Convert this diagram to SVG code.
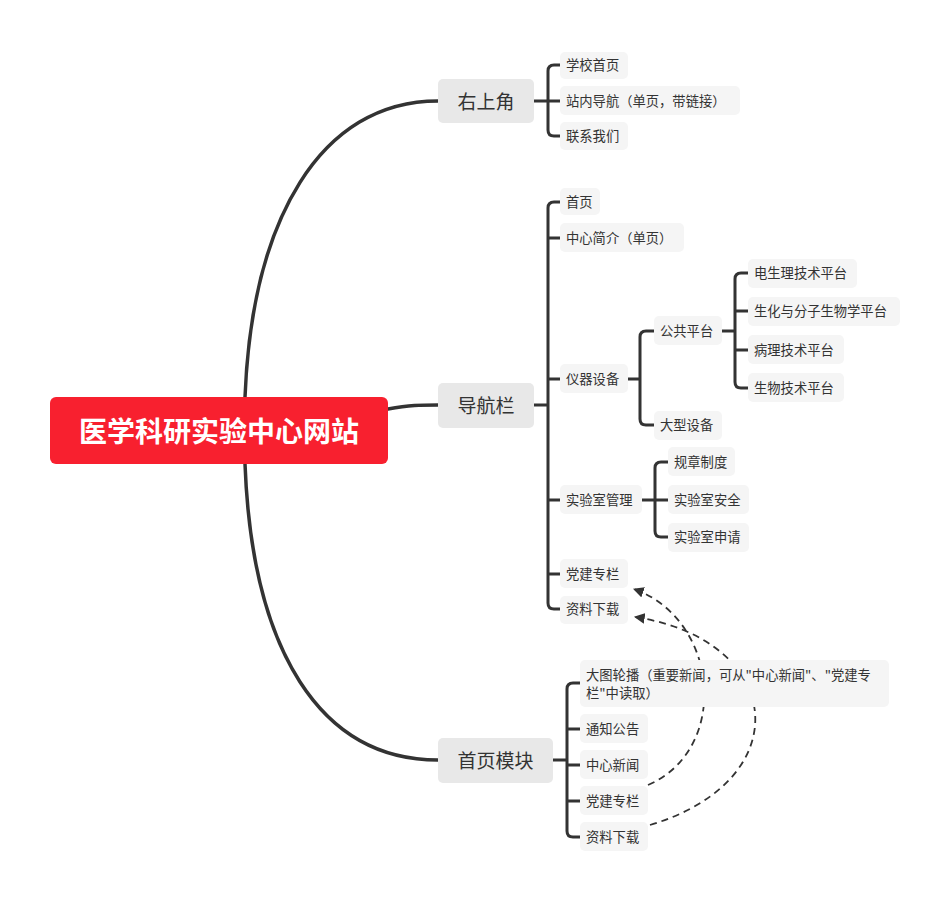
<svg xmlns="http://www.w3.org/2000/svg" width="950" height="902" viewBox="0 0 950 902">
<style>
.ln{fill:none;stroke:#333;stroke-width:3;stroke-linecap:round;stroke-linejoin:round}
.main{fill:none;stroke:#333;stroke-width:3.5;stroke-linecap:round}
.dash{fill:none;stroke:#333;stroke-width:1.8;stroke-dasharray:7 5}
.l1 rect{fill:#E8E8E8}
.l1 text{font-family:"Noto Sans CJK SC","Noto Sans",sans-serif;font-size:19px;fill:#333;dominant-baseline:central;text-anchor:middle}
.lf rect{fill:#F5F5F5}
.lf text{font-family:"Noto Sans CJK SC","Noto Sans",sans-serif;font-size:13.3px;fill:#333;dominant-baseline:central}
</style>
<defs>
<marker id="ah" viewBox="0 0 10 10" refX="9" refY="5" markerWidth="6" markerHeight="6" orient="auto">
<path d="M0 0 L10 5 L0 10 z" fill="#333"/>
</marker>
</defs>
<rect width="950" height="902" fill="#fff"/>
<g id="connectors">
<path class="main" d="M245 397 C252 220 320 101 438 101"/>
<path class="main" d="M388 409 C410 405 420 405 438 405"/>
<path class="main" d="M245 464 C252 650 320 760 438 760"/>
<!-- 右上角 -->
<path class="ln" d="M534 101 H560 M560 65 H554 Q548 65 548 71 V130 Q548 136 554 136 H560"/>
<!-- 导航栏 -->
<path class="ln" d="M534 405 H548 M560 202 H554 Q548 202 548 208 V603 Q548 609 554 609 H560 M548 238 H560 M548 379 H560 M548 500 H560 M548 574 H560"/>
<!-- 仪器设备 -->
<path class="ln" d="M628 379 H640 M654 331 H646 Q640 331 640 337 V419 Q640 425 646 425 H654"/>
<!-- 公共平台 -->
<path class="ln" d="M722 331 H735 M748 273 H741 Q735 273 735 279 V382 Q735 388 741 388 H748 M735 311 H748 M735 350 H748"/>
<!-- 实验室管理 -->
<path class="ln" d="M642 500 H668 M668 462 H661 Q655 462 655 468 V531 Q655 537 661 537 H668"/>
<!-- 首页模块 -->
<path class="ln" d="M553 760 H567 M580 683 H573 Q567 683 567 689 V831 Q567 837 573 837 H580 M567 729 H580 M567 765 H580 M567 801 H580"/>
<path class="dash" marker-end="url(#ah)" d="M648 785 C730 750 720 620 634 589"/>
<path class="dash" marker-end="url(#ah)" d="M650 825 C800 780 785 640 635 617"/>
</g>
<g id="root">
<rect x="50" y="397" width="338" height="67" rx="6" fill="#F8202F"/>
<text x="219" y="430" font-family="'Noto Sans CJK SC','Noto Sans',sans-serif" font-size="28" font-weight="bold" fill="#fff" text-anchor="middle" dominant-baseline="central">医学科研实验中心网站</text>
</g>
<g id="n-youshangjiao" class="l1"><rect x="438" y="79" width="96" height="44" rx="5"/><text x="486" y="100">右上角</text></g>
<g id="n-daohanglan" class="l1"><rect x="438" y="383" width="96" height="45" rx="5"/><text x="486" y="404">导航栏</text></g>
<g id="n-shouyemokuai" class="l1"><rect x="438" y="738" width="115" height="45" rx="5"/><text x="495.5" y="759">首页模块</text></g>

<g id="n-xuexiaoshouye" class="lf"><rect x="560" y="52" width="68" height="27" rx="5"/><text x="566" y="64.5">学校首页</text></g>
<g id="n-zhanneidaohang" class="lf"><rect x="560" y="86" width="180" height="29" rx="5"/><text x="566" y="100.5">站内导航（单页，带链接）</text></g>
<g id="n-lianxiwomen" class="lf"><rect x="560" y="122" width="68" height="28" rx="5"/><text x="566" y="135.5">联系我们</text></g>

<g id="n-shouye" class="lf"><rect x="560" y="188" width="40" height="27" rx="5"/><text x="566" y="201.5">首页</text></g>
<g id="n-zhongxinjianjie" class="lf"><rect x="560" y="223" width="124" height="29" rx="5"/><text x="566" y="237.5">中心简介（单页）</text></g>
<g id="n-yiqishebei" class="lf"><rect x="560" y="364" width="68" height="29" rx="5"/><text x="566" y="378.5">仪器设备</text></g>
<g id="n-gonggongpingtai" class="lf"><rect x="654" y="316" width="68" height="29" rx="5"/><text x="660" y="330.5">公共平台</text></g>
<g id="n-daxingshebei" class="lf"><rect x="654" y="411" width="68" height="29" rx="5"/><text x="660" y="424.5">大型设备</text></g>
<g id="n-dianshengli" class="lf"><rect x="748" y="259" width="109" height="29" rx="5"/><text x="754" y="272.5">电生理技术平台</text></g>
<g id="n-shenghua" class="lf"><rect x="748" y="297" width="152" height="29" rx="5"/><text x="754" y="310.5">生化与分子生物学平台</text></g>
<g id="n-bingli" class="lf"><rect x="748" y="335" width="96" height="29" rx="5"/><text x="754" y="349.5">病理技术平台</text></g>
<g id="n-shengwu" class="lf"><rect x="748" y="373" width="96" height="29" rx="5"/><text x="754" y="387.5">生物技术平台</text></g>
<g id="n-shiyanshiguanli" class="lf"><rect x="560" y="485" width="82" height="29" rx="5"/><text x="566" y="499.5">实验室管理</text></g>
<g id="n-guizhangzhidu" class="lf"><rect x="668" y="447" width="67" height="29" rx="5"/><text x="674" y="461.5">规章制度</text></g>
<g id="n-anquan" class="lf"><rect x="668" y="485" width="81" height="29" rx="5"/><text x="674" y="499.5">实验室安全</text></g>
<g id="n-shenqing" class="lf"><rect x="668" y="523" width="81" height="29" rx="5"/><text x="674" y="536.5">实验室申请</text></g>
<g id="n-dangjian1" class="lf"><rect x="560" y="559" width="68" height="29" rx="5"/><text x="566" y="573.5">党建专栏</text></g>
<g id="n-ziliao1" class="lf"><rect x="560" y="596" width="68" height="28" rx="5"/><text x="566" y="608.5">资料下载</text></g>

<g id="n-datulunbo" class="lf"><rect x="580" y="660" width="309" height="47" rx="5"/><text x="586" y="674.5">大图轮播（重要新闻，可从"中心新闻"、"党建专</text><text x="586" y="692.5">栏"中读取）</text></g>
<g id="n-tongzhi" class="lf"><rect x="580" y="714" width="68" height="29" rx="5"/><text x="586" y="728.5">通知公告</text></g>
<g id="n-zhongxinxinwen" class="lf"><rect x="580" y="750" width="68" height="29" rx="5"/><text x="586" y="764.5">中心新闻</text></g>
<g id="n-dangjian2" class="lf"><rect x="580" y="786" width="68" height="29" rx="5"/><text x="586" y="800.5">党建专栏</text></g>
<g id="n-ziliao2" class="lf"><rect x="580" y="822" width="68" height="29" rx="5"/><text x="586" y="836.5">资料下载</text></g>
</svg>
